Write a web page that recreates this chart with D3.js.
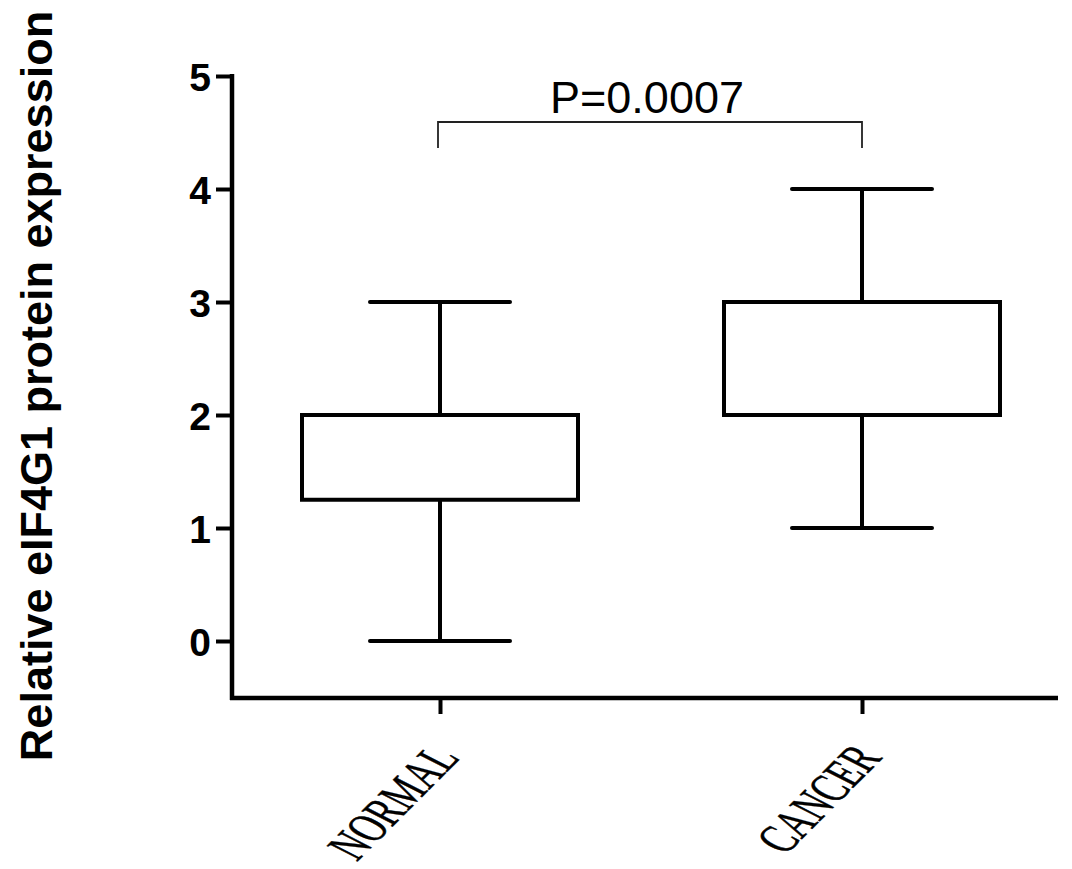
<!DOCTYPE html>
<html>
<head>
<meta charset="utf-8">
<script src="https://cdn.jsdelivr.net/npm/d3@7"></script>
<style>
  html, body { margin: 0; padding: 0; background: #ffffff; }
  svg { display: block; }
</style>
</head>
<body>
<svg id="chart" width="1072" height="869"></svg>
<script>
// ---- data ----
const categories = ["NORMAL", "CANCER"];
const whiskerLow = [0, 1];
const q1Values = [1.25, 2];
const medianValues = [2, 2];
const q3Values = [2, 3];
const whiskerHigh = [3, 4];
const yTicks = [0, 1, 2, 3, 4, 5];
const yLabel = "Relative eIF4G1 protein expression";
const pLabel = "P=0.0007";
const compareGroups = ["NORMAL", "CANCER"];

// ---- layout ----
const svg = d3.select("#chart");
const axisX = 232, axisBottom = 698, axisRight = 1058;
const y = d3.scaleLinear().domain([0, 5]).range([641, 76]);
const x = d3.scalePoint().domain(categories).range([440, 862]);
const boxHalf = 138, capHalf = 70;
const stroke = "#000";

// y axis
const yAxis = d3.axisLeft(y).tickValues(yTicks).tickSize(16).tickPadding(5).tickFormat(d3.format("d"));
const gy = svg.append("g").attr("transform", `translate(${axisX},0)`).call(yAxis);
gy.select(".domain").remove();
gy.selectAll(".tick line").attr("stroke", stroke).attr("stroke-width", 4);
gy.selectAll(".tick text")
  .attr("font-family", "Liberation Sans, Arial, sans-serif")
  .attr("font-weight", "bold")
  .attr("font-size", 39)
  .attr("fill", "#000")
  .attr("dy", "0.36em");
svg.append("line")
  .attr("x1", axisX).attr("x2", axisX)
  .attr("y1", y(5) - 2).attr("y2", axisBottom + 2)
  .attr("stroke", stroke).attr("stroke-width", 4.5);

// x axis
const xAxis = d3.axisBottom(x).tickSize(16).tickFormat("");
const gx = svg.append("g").attr("transform", `translate(0,${axisBottom})`).call(xAxis);
gx.select(".domain").remove();
gx.selectAll(".tick line").attr("stroke", stroke).attr("stroke-width", 4);
svg.append("line")
  .attr("x1", axisX - 2).attr("x2", axisRight)
  .attr("y1", axisBottom).attr("y2", axisBottom)
  .attr("stroke", stroke).attr("stroke-width", 4.5);

// x labels rotated (condensed, slanted serif)
svg.append("g").selectAll("text").data(categories).join("text")
  .attr("transform", d => `translate(${x(d) + 21},${axisBottom + 60}) rotate(-45) skewX(18) scale(0.68,1)`)
  .attr("text-anchor", "end")
  .attr("font-family", "Liberation Serif, Times New Roman, serif")
  .attr("font-size", 50)
  .attr("fill", "#000")
  .attr("stroke", "#000")
  .attr("stroke-width", 0.6)
  .text(d => d);

// boxes
const boxes = svg.append("g");
categories.forEach((c, i) => {
  const cx = x(c);
  const g = boxes.append("g").attr("stroke", stroke).attr("stroke-width", 4).attr("fill", "none");
  // whiskers
  g.append("line").attr("x1", cx).attr("x2", cx).attr("y1", y(whiskerHigh[i])).attr("y2", y(q3Values[i]));
  g.append("line").attr("x1", cx).attr("x2", cx).attr("y1", y(q1Values[i])).attr("y2", y(whiskerLow[i]));
  g.append("line").attr("x1", cx - capHalf).attr("x2", cx + capHalf).attr("y1", y(whiskerHigh[i])).attr("y2", y(whiskerHigh[i])).attr("stroke-linecap", "round");
  g.append("line").attr("x1", cx - capHalf).attr("x2", cx + capHalf).attr("y1", y(whiskerLow[i])).attr("y2", y(whiskerLow[i])).attr("stroke-linecap", "round");
  // box
  g.append("rect")
    .attr("x", cx - boxHalf).attr("width", boxHalf * 2)
    .attr("y", y(q3Values[i])).attr("height", y(q1Values[i]) - y(q3Values[i]))
    .attr("fill", "#fff");
  g.append("line").attr("x1", cx - boxHalf).attr("x2", cx + boxHalf).attr("y1", y(medianValues[i])).attr("y2", y(medianValues[i]));
});

// significance bracket
const bx1 = x(compareGroups[0]) - 2, bx2 = x(compareGroups[1]);
const by = 122, legLen = 26;
svg.append("path")
  .attr("d", `M${bx1},${by + legLen}V${by}H${bx2}V${by + legLen}`)
  .attr("fill", "none").attr("stroke", "#222").attr("stroke-width", 1.8);
svg.append("text")
  .attr("x", (bx1 + bx2) / 2 - 3).attr("y", 113)
  .attr("text-anchor", "middle")
  .attr("font-family", "Liberation Sans, Arial, sans-serif")
  .attr("font-size", 45)
  .attr("fill", "#000")
  .text(pLabel);

// y label
svg.append("text")
  .attr("transform", "translate(52,386) rotate(-90)")
  .attr("text-anchor", "middle")
  .attr("font-family", "Liberation Sans, Arial, sans-serif")
  .attr("font-weight", "bold")
  .attr("font-size", 45)
  .attr("fill", "#000")
  .text(yLabel);
</script>
</body>
</html>
